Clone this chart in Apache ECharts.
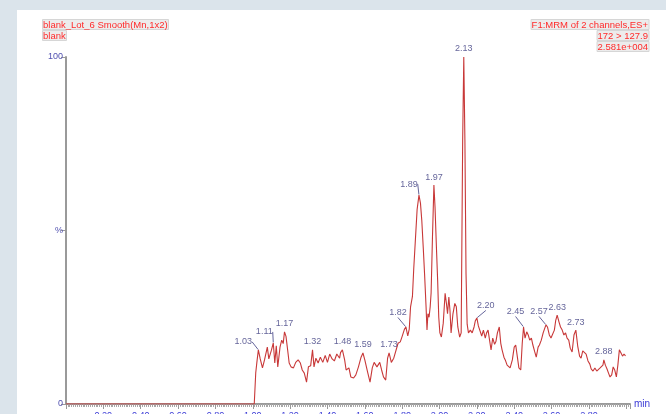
<!DOCTYPE html>
<html>
<head>
<meta charset="utf-8">
<script src="https://cdn.jsdelivr.net/npm/echarts@6/dist/echarts.min.js"></script>
<style>
  html, body { margin: 0; padding: 0; background: #dbe4eb; }
  #chart { width: 666px; height: 414px; }
</style>
</head>
<body>
<div id="chart"></div>
<script>
// Chromatogram header text
const headerLeft = ['blank_Lot_6 Smooth(Mn,1x2)', 'blank'];
const headerRight = ['F1:MRM of 2 channels,ES+', '172 > 127.9', '2.581e+004'];

// Retention time (min) and relative intensity (%)
const traceTimes = [
  0.000, 1.008,
  1.016, 1.022, 1.030, 1.040, 1.052, 1.063, 1.078, 1.086, 1.090, 1.100,
  1.110, 1.118, 1.126, 1.134, 1.146, 1.155, 1.163, 1.170, 1.178, 1.187,
  1.195, 1.205, 1.218, 1.230, 1.243, 1.255, 1.265, 1.276, 1.288, 1.298,
  1.310, 1.320, 1.328, 1.338, 1.350, 1.362, 1.375, 1.388, 1.400, 1.412,
  1.425, 1.437, 1.450, 1.465, 1.470, 1.480, 1.492, 1.500, 1.515, 1.525,
  1.540, 1.552, 1.566, 1.580, 1.590, 1.600, 1.615, 1.628, 1.640, 1.650,
  1.665, 1.680, 1.690, 1.700, 1.712, 1.722, 1.730, 1.742, 1.755, 1.765,
  1.778, 1.790, 1.800, 1.812, 1.820, 1.830, 1.838, 1.845, 1.855, 1.862,
  1.870, 1.880, 1.890, 1.898, 1.905, 1.913, 1.920, 1.928, 1.933, 1.938,
  1.944, 1.950, 1.955, 1.962, 1.970, 1.976, 1.984, 1.990, 1.996, 2.002,
  2.010, 2.020, 2.030, 2.037, 2.043, 2.050, 2.056, 2.062, 2.072, 2.082,
  2.090, 2.098, 2.108, 2.116, 2.124, 2.130, 2.136, 2.142, 2.148, 2.155,
  2.165, 2.175, 2.185, 2.192, 2.200, 2.208, 2.218, 2.226, 2.235, 2.245,
  2.252, 2.260, 2.268, 2.276, 2.285, 2.295, 2.302, 2.310, 2.320, 2.328,
  2.335, 2.345, 2.352, 2.362, 2.378, 2.390, 2.400, 2.408, 2.417, 2.425,
  2.435, 2.443, 2.450, 2.458, 2.467, 2.475, 2.483, 2.492, 2.500, 2.510,
  2.518, 2.528, 2.535, 2.545, 2.555, 2.570, 2.578, 2.588, 2.597, 2.605,
  2.615, 2.622, 2.630, 2.640, 2.648, 2.657, 2.666, 2.675, 2.683, 2.692,
  2.700, 2.710, 2.720, 2.730, 2.740, 2.750, 2.758, 2.767, 2.777, 2.785,
  2.795, 2.805, 2.812, 2.822, 2.832, 2.842, 2.850, 2.860, 2.868, 2.875,
  2.880, 2.888, 2.897, 2.905, 2.913, 2.922, 2.930, 2.938, 2.947, 2.955,
  2.963, 2.972, 2.980, 2.988, 2.996
];
const traceIntensity = [
  0, 0,
  9.0, 12.0, 15.6, 13.0, 10.4, 12.7, 16.4, 13.0, 12.5, 15.5,
  17.6, 11.8, 16.8, 10.7, 16.4, 18.4, 17.4, 20.8, 19.5, 15.5,
  11.8, 10.7, 10.4, 12.0, 12.7, 11.8, 9.8, 8.9, 6.3, 10.7,
  11.0, 15.6, 10.7, 13.2, 11.8, 13.5, 12.0, 14.0, 12.0, 14.4,
  13.0, 12.4, 14.4, 13.2, 14.8, 15.6, 12.7, 9.8, 10.4, 7.8,
  7.5, 8.4, 10.7, 13.5, 14.7, 12.7, 9.2, 6.3, 10.4, 12.0,
  10.7, 12.0, 9.8, 7.8, 6.9, 13.2, 14.7, 12.0, 13.2, 13.5,
  17.5, 17.9, 19.5, 21.5, 22.2, 19.6, 21.6, 28.0, 31.0, 39.0,
  46.5, 56.0, 60.2, 57.9, 53.0, 45.0, 37.5, 28.0, 21.3, 26.0,
  25.0, 28.0, 32.0, 47.5, 63.1, 56.8, 44.4, 35.7, 25.0, 20.5,
  19.3, 23.3, 31.9, 29.0, 26.0, 30.8, 27.0, 20.5, 26.0, 29.0,
  28.0, 22.2, 19.3, 20.5, 76.0, 100.0, 76.0, 37.5, 23.0, 20.5,
  21.3, 20.5, 22.2, 24.0, 24.8, 22.5, 22.8, 19.6, 21.3, 19.0,
  20.5, 21.3, 18.4, 15.6, 19.0, 17.2, 18.0, 20.5, 22.2, 17.5,
  15.6, 13.5, 12.7, 11.2, 10.4, 12.7, 16.4, 17.0, 13.5, 10.4,
  9.8, 17.5, 22.2, 19.0, 20.8, 19.9, 18.4, 19.0, 17.0, 15.0,
  13.5, 16.4, 17.0, 18.4, 20.5, 22.8, 22.2, 19.9, 19.0, 19.3,
  21.3, 24.0, 25.6, 23.6, 22.2, 21.3, 19.9, 20.5, 19.0, 18.4,
  16.1, 15.0, 19.9, 21.3, 16.7, 13.8, 13.2, 15.3, 15.8, 14.4,
  12.4, 11.5, 10.1, 9.5, 10.4, 9.5, 9.2, 10.4, 10.1, 11.2,
  12.7, 11.2, 10.1, 8.9, 7.8, 8.4, 10.7, 9.8, 7.8, 11.2,
  15.6, 14.7, 13.8, 14.4, 13.9
];

// Apex retention times of the annotated peaks
const peakTimes = [1.03, 1.11, 1.17, 1.32, 1.48, 1.59, 1.73, 1.82, 1.89,
                   1.97, 2.13, 2.20, 2.45, 2.57, 2.63, 2.73, 2.88];

// Y axis tick text at 0, 50 and 100 %
const yTickText = ['0', '%', '100'];

// Pixel shift of annotation labels that sit beside their apex (with a leader)
const labelShift = {
  '1.03': [-15, 0], '1.11': [-9, -3], '1.82': [-8, -6], '1.89': [-10, -3],
  '2.20': [9, -4], '2.45': [-8, -7], '2.57': [-7, -5]
};

const trace = traceTimes.map((t, i) => [t, traceIntensity[i]]);
const peaks = peakTimes.map(pt => {
  let best = 0;
  traceTimes.forEach((t, i) => {
    if (Math.abs(t - pt) < Math.abs(traceTimes[best] - pt)) best = i;
  });
  const key = pt.toFixed(2);
  return {
    value: [pt, traceIntensity[best]],
    labelLine: { show: !!labelShift[key] }
  };
});

const FONT = 'Liberation Sans, Arial, sans-serif';
const redText = { color: '#ff2a2a', fontSize: 9.5, fontWeight: 'normal', fontFamily: FONT };
const headerBox = { backgroundColor: '#ececec', borderColor: '#d6d6d6', borderWidth: 1, padding: [1, 1, 0, 1] };
const titles = [];
headerLeft.forEach((s, i) => titles.push(Object.assign({
  text: s, left: 42, top: 19 + i * 11, textStyle: redText
}, headerBox)));
headerRight.forEach((s, i) => titles.push(Object.assign({
  text: s, right: 17, top: 19 + i * 11, textStyle: redText
}, headerBox)));

const chart = echarts.init(document.getElementById('chart'), null, { renderer: 'canvas' });
chart.setOption({
  animation: false,
  backgroundColor: '#dbe4eb',
  title: titles,
  graphic: [{
    type: 'rect', z: -10, silent: true,
    shape: { x: 17, y: 10, width: 660, height: 420 },
    style: { fill: '#ffffff' }
  }],
  grid: { left: 66, right: 36, top: 57, bottom: 10, containLabel: false, outerBoundsMode: 'none' },
  xAxis: {
    type: 'value', min: 0, max: 3.02, interval: 0.2,
    name: 'min', nameLocation: 'end', nameGap: 4,
    nameTextStyle: { color: '#3b3bd6', fontSize: 10, fontFamily: FONT, padding: [9, 0, 0, 0] },
    axisLine: { lineStyle: { color: '#9a9a9a', width: 2 } },
    axisTick: { show: true, length: 5, lineStyle: { color: '#9a9a9a', width: 1 } },
    minorTick: { show: true, splitNumber: 20, length: 3, lineStyle: { color: '#a8a8a8', width: 1 } },
    axisLabel: {
      color: '#3b3bd6', fontSize: 9, fontFamily: FONT, margin: 7, hideOverlap: false,
      formatter: v => (v < 0.1 || v > 2.9) ? '' : v.toFixed(2)
    },
    splitLine: { show: false }
  },
  yAxis: {
    type: 'value', min: 0, max: 100, interval: 50,
    axisLine: { show: true, lineStyle: { color: '#9a9a9a', width: 2 } },
    axisTick: { show: true, length: 5, lineStyle: { color: '#9a9a9a', width: 1 } },
    axisLabel: {
      color: '#5050b0', fontSize: 9, fontFamily: FONT, margin: 3,
      formatter: v => yTickText[Math.round(v / 50)]
    },
    splitLine: { show: false }
  },
  series: [{
    type: 'line', data: trace, showSymbol: false, smooth: false,
    lineStyle: { color: '#c83838', width: 1.1 },
    z: 2
  }, {
    type: 'scatter', data: peaks, symbolSize: 1,
    itemStyle: { color: 'rgba(0,0,0,0)' },
    label: {
      show: true, position: 'top', distance: 3,
      color: '#3c3c80', fontSize: 9, fontFamily: FONT,
      formatter: p => p.value[0].toFixed(2)
    },
    labelLayout: p => {
      const s = labelShift[peakTimes[p.dataIndex].toFixed(2)];
      return s ? { dx: s[0], dy: s[1] } : {};
    },
    labelLine: { lineStyle: { color: '#3c3c80', width: 0.8 } },
    z: 3
  }]
});
</script>
</body>
</html>
